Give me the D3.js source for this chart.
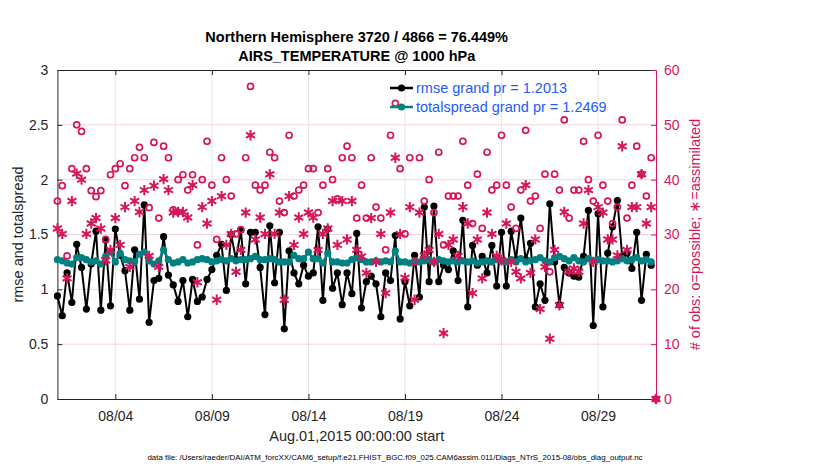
<!DOCTYPE html>
<html>
<head>
<meta charset="utf-8">
<script src="https://cdn.jsdelivr.net/npm/d3@7"></script>
<style>
  body { margin: 0; background: #fff; }
  text { font-family: "Liberation Sans", Arial, sans-serif; }
</style>
</head>
<body>
<div id="chart"></div>
<script>
// values, one per 6-hour bin starting Aug 1 2015 00Z
const rmse = [0.94,0.76,1.15,0.88,1.41,1.20,0.82,1.23,1.53,0.81,1.45,0.85,1.55,1.31,1.17,0.81,1.36,0.91,1.77,0.70,1.08,1.10,
  1.48,1.13,1.04,0.89,1.08,0.75,1.09,0.89,0.93,1.09,1.18,1.31,1.41,0.99,1.50,1.27,1.54,1.05,1.52,1.52,1.20,
  0.77,1.58,1.06,1.52,0.64,1.35,1.15,1.05,1.22,1.12,1.15,1.57,0.90,1.55,1.01,1.15,0.86,1.15,0.96,1.51,0.83,
  1.07,1.12,1.05,0.75,1.15,1.08,1.49,0.73,1.07,0.85,1.31,0.93,1.75,1.07,1.76,1.07,1.22,1.18,1.35,1.08,
  1.63,0.84,1.40,1.22,1.30,1.15,1.40,1.03,1.52,1.03,1.53,1.27,1.65,1.27,1.42,0.84,1.05,0.90,1.78,1.25,0.86,
  1.20,1.15,1.12,1.11,1.30,1.72,0.67,1.69,0.84,1.33,1.57,1.81,1.30,1.33,1.19,1.52,0.90,1.32,1.22];

const totalspread = [1.27,1.26,1.24,1.23,1.29,1.29,1.27,1.25,1.26,1.23,1.30,1.34,1.25,1.33,1.27,1.26,1.25,1.32,1.34,1.26,1.23,1.26,
  1.36,1.27,1.24,1.25,1.27,1.24,1.25,1.27,1.28,1.27,1.25,1.26,1.27,1.26,1.28,1.26,1.27,1.27,1.28,1.30,1.27,
  1.27,1.28,1.27,1.25,1.25,1.25,1.31,1.28,1.28,1.34,1.28,1.28,1.24,1.33,1.25,1.25,1.24,1.24,1.27,1.29,1.27,
  1.25,1.25,1.26,1.25,1.26,1.25,1.35,1.25,1.25,1.24,1.26,1.25,1.26,1.27,1.25,1.27,1.26,1.25,1.26,1.25,
  1.26,1.25,1.26,1.24,1.25,1.26,1.25,1.27,1.26,1.25,1.27,1.25,1.28,1.25,1.26,1.27,1.29,1.26,1.25,1.29,1.30,
  1.28,1.26,1.29,1.26,1.25,1.28,1.26,1.27,1.26,1.26,1.25,1.26,1.28,1.26,1.27,1.29,1.26,1.27,1.25];

// obs counts; the last entry is the empty bin at 09/01 00Z
const possible = [36.1,38.9,26.1,42.0,50.0,48.8,42.0,38.0,36.9,38.0,29.1,40.9,42.0,42.9,38.9,42.0,44.0,45.9,44.0,34.9,46.8,33.0,
  46.1,44.0,34.5,40.0,40.9,38.1,40.9,28.1,40.0,47.0,39.0,29.1,44.0,40.0,37.0,30.1,30.9,44.0,57.0,39.0,38.1,
  39.0,45.0,44.0,36.1,34.0,48.1,37.0,38.1,39.0,42.0,42.0,34.0,39.0,42.0,40.0,36.5,44.0,46.1,44.0,33.0,39.0,
  33.0,44.0,35.0,33.0,27.2,48.1,53.9,42.0,30.1,44.0,25.0,44.0,36.1,40.0,34.0,45.0,28.1,37.0,37.0,37.0,
  47.0,39.0,32.0,41.0,31.1,45.0,38.1,39.0,48.1,39.0,35.0,31.1,38.1,49.0,36.1,37.0,31.1,41.0,23.2,41.0,38.1,
  50.9,33.0,38.1,38.1,47.0,40.0,36.1,48.1,39.0,36.1,32.0,35.0,50.9,33.0,39.0,46.1,41.0,37.0,44.0,0];

const assimilated = [31.1,30.1,22.0,36.1,41.1,40.0,30.1,32.0,33.0,31.1,25.3,27.2,33.0,28.1,35.0,24.1,36.1,34.1,38.1,26.1,38.9,24.1,
  40.1,38.1,34.0,34.1,34.1,33.1,39.0,21.3,35.0,32.0,36.1,18.1,37.0,28.1,30.1,23.2,27.2,34.0,48.1,29.1,33.1,
  30.1,41.0,30.1,34.0,18.1,37.0,28.1,33.1,30.1,34.0,33.1,27.2,30.1,31.1,36.1,28.1,36.1,29.1,36.1,27.2,26.0,
  23.0,33.0,25.0,30.1,19.3,34.0,44.0,30.1,22.1,35.0,18.1,34.0,26.2,27.2,25.0,30.1,12.0,28.1,29.1,26.1,
  35.0,32.0,19.3,29.1,22.0,34.0,30.1,26.1,25.3,32.0,25.0,23.2,22.0,39.0,23.0,29.1,16.4,24.1,11.0,27.2,17.1,
  34.1,23.2,23.8,23.2,32.0,38.1,25.0,35.0,34.0,29.1,29.1,26.2,46.1,27.2,35.0,35.0,41.0,32.0,35.0,0];

const tickDays = [4, 9, 14, 19, 24, 29];
const tickLabels = ["08/04", "08/09", "08/14", "08/19", "08/24", "08/29"];
const leftTicks = [0, 0.5, 1, 1.5, 2, 2.5, 3];
const rightTicks = [0, 10, 20, 30, 40, 50, 60];

const titleLines = ["Northern Hemisphere 3720 / 4866 = 76.449%", "AIRS_TEMPERATURE @ 1000 hPa"];
const legendLabels = ["rmse grand pr = 1.2013", "totalspread grand pr = 1.2469"];

const W = 830, H = 470;
const padL = 57.4, padR = 656, padT = 70, padB = 399;
const crimson = "#d7155a", teal = "#008080", txt = "#262626";

const start = Date.UTC(2015, 7, 1);
const hour = 3600 * 1000;
const timeOf = i => new Date(start + i * 6 * hour);
const dayOf = d => new Date(Date.UTC(2015, 7, d));

const x = d3.scaleUtc().domain([new Date(start), new Date(Date.UTC(2015, 8, 1))]).range([padL, padR]);
const yL = d3.scaleLinear().domain([0, 3]).range([padB, padT]);
const yR = d3.scaleLinear().domain([0, 60]).range([padB, padT]);

const svg = d3.select("#chart").append("svg")
    .attr("width", W).attr("height", H)
    .style("background", "#fff");

// grid
tickDays.forEach(d => {
  const xx = x(dayOf(d));
  svg.append("line").attr("x1", xx).attr("x2", xx).attr("y1", padT).attr("y2", padB)
      .attr("stroke", "#e6e6e6").attr("stroke-width", 1);
});
rightTicks.slice(1, -1).forEach(v => {
  svg.append("line").attr("x1", padL).attr("x2", padR).attr("y1", yR(v)).attr("y2", yR(v))
      .attr("stroke", "#f5d3de").attr("stroke-width", 1);
});

// axes
const xAxis = d3.axisBottom(x)
    .tickValues(tickDays.map(dayOf))
    .tickFormat((d, i) => tickLabels[i])
    .tickSizeInner(-5).tickSizeOuter(0).tickPadding(12);
const gx = svg.append("g").attr("transform", `translate(0,${padB})`).call(xAxis);
gx.select(".domain").attr("stroke", "#262626");
gx.selectAll(".tick line").attr("stroke", "#262626");
gx.selectAll("text").attr("font-size", 14).attr("fill", txt);

const gxTop = svg.append("g").attr("transform", `translate(0,${padT})`)
    .call(d3.axisTop(x).tickValues(tickDays.map(dayOf))
      .tickFormat("").tickSizeInner(-5).tickSizeOuter(0));
gxTop.select(".domain").attr("stroke", "#262626");
gxTop.selectAll(".tick line").attr("stroke", "#262626");

const gyL = svg.append("g").attr("transform", `translate(${padL},0)`)
    .call(d3.axisLeft(yL).tickValues(leftTicks).tickFormat(d3.format("~g"))
      .tickSizeInner(-5).tickSizeOuter(0).tickPadding(9));
gyL.select(".domain").attr("stroke", "#262626");
gyL.selectAll(".tick line").attr("stroke", "#262626");
gyL.selectAll("text").attr("font-size", 14).attr("fill", txt);

const gyR = svg.append("g").attr("transform", `translate(${padR},0)`)
    .call(d3.axisRight(yR).tickValues(rightTicks)
      .tickSizeInner(-5).tickSizeOuter(0).tickPadding(8));
gyR.select(".domain").attr("stroke", crimson);
gyR.selectAll(".tick line").attr("stroke", crimson);
gyR.selectAll("text").attr("font-size", 14).attr("fill", crimson);

// series
const lineL = d3.line().x((d, i) => x(timeOf(i))).y(d => yL(d));

svg.append("path").datum(rmse).attr("d", lineL)
    .attr("fill", "none").attr("stroke", "#000").attr("stroke-width", 2);
svg.append("g").selectAll("circle").data(rmse).join("circle")
    .attr("cx", (d, i) => x(timeOf(i))).attr("cy", d => yL(d)).attr("r", 3.6)
    .attr("fill", "#000");

svg.append("path").datum(totalspread).attr("d", lineL)
    .attr("fill", "none").attr("stroke", teal).attr("stroke-width", 2.5);
svg.append("g").selectAll("circle").data(totalspread).join("circle")
    .attr("cx", (d, i) => x(timeOf(i))).attr("cy", d => yL(d)).attr("r", 3.6)
    .attr("fill", teal);

svg.append("g").selectAll("circle").data(possible).join("circle")
    .attr("cx", (d, i) => x(timeOf(i))).attr("cy", d => yR(d)).attr("r", 3)
    .attr("fill", "none").attr("stroke", crimson).attr("stroke-width", 1.7);

const star = d3.symbol().type(d3.symbolAsterisk).size(75);
svg.append("g").selectAll("path").data(assimilated).join("path")
    .attr("transform", (d, i) => `translate(${x(timeOf(i))},${yR(d)})`)
    .attr("d", star)
    .attr("fill", "none").attr("stroke", crimson).attr("stroke-width", 2);

// titles
svg.append("g").selectAll("text").data(titleLines).join("text")
    .attr("x", (padL + padR) / 2).attr("y", (d, i) => 42 + i * 19)
    .attr("text-anchor", "middle").attr("font-size", 14.5).attr("font-weight", "bold")
    .attr("fill", "#000").text(d => d);

svg.append("text")
    .attr("transform", `translate(23,${(padT + padB) / 2}) rotate(-90)`)
    .attr("text-anchor", "middle").attr("font-size", 14.5).attr("fill", txt)
    .text("rmse and totalspread");

svg.append("text")
    .attr("transform", `translate(700,${(padT + padB) / 2}) rotate(-90)`)
    .attr("text-anchor", "middle").attr("font-size", 14.5).attr("fill", crimson)
    .text("# of obs: o=possible; \u2217=assimilated");

svg.append("text")
    .attr("x", (padL + padR) / 2).attr("y", 441)
    .attr("text-anchor", "middle").attr("font-size", 14.5).attr("fill", txt)
    .text("Aug.01,2015 00:00:00 start");

svg.append("text")
    .attr("x", 395).attr("y", 460)
    .attr("text-anchor", "middle").attr("font-size", 7.9).attr("fill", "#000")
    .text("data file: /Users/raeder/DAI/ATM_forcXX/CAM6_setup/f.e21.FHIST_BGC.f09_025.CAM6assim.011/Diags_NTrS_2015-08/obs_diag_output.nc");

// legend
const legend = svg.append("g").attr("transform", "translate(390,0)");
const legendColors = ["#000", teal];
legendLabels.forEach((lab, i) => {
  const ly = 88 + i * 19;
  legend.append("line").attr("x1", 0).attr("x2", 23).attr("y1", ly).attr("y2", ly)
      .attr("stroke", legendColors[i]).attr("stroke-width", 2.5);
  legend.append("circle").attr("cx", 11.5).attr("cy", ly).attr("r", 3.6).attr("fill", legendColors[i]);
  legend.append("text").attr("x", 26).attr("y", ly + 5).attr("font-size", 14.5)
      .attr("fill", "#1a5cff").text(lab);
});
</script>
</body>
</html>
